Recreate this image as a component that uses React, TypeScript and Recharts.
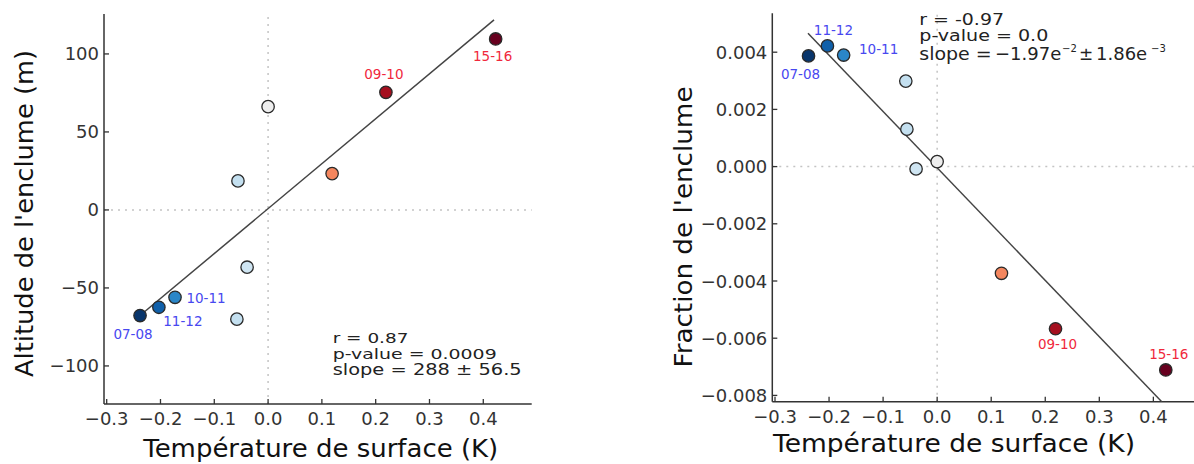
import React from 'react';
import { ScatterChart, Scatter, XAxis, YAxis, ReferenceLine } from 'recharts';

// ---- data ----
const seasons = ['07-08', '11-12', '10-11', '', '', '', '', '', '09-10', '15-16'];
const surfaceTemp = [-0.238, -0.203, -0.173, -0.058, -0.056, -0.039, 0.0, 0.119, 0.219, 0.423];
const anvilAltitude = [-67.7, -62.4, -56, -70, 18.6, -36.7, 66.2, 23.3, 75.4, 109.6];
const anvilFraction = [0.00387, 0.00422, 0.0039, 0.00299, 0.00131, -0.00008, 0.000175, -0.00373, -0.00567, -0.00711];
const xTicks = [-0.3, -0.2, -0.1, 0, 0.1, 0.2, 0.3, 0.4];
const altTicks = [-100, -50, 0, 50, 100];
const fracTicks = [-0.008, -0.006, -0.004, -0.002, 0, 0.002, 0.004];
const altFit = [{ x: -0.238, y: -67.7 }, { x: 0.42, y: 121.8 }];
const fracFit = [{ x: -0.239, y: 0.00466 }, { x: 0.4155, y: -0.00822 }];

// ---- styles ----
const pointColors = ['#08356b', '#1060aa', '#2a86c8', '#c4e0f0', '#c4e0f0', '#cfe5f2', '#eeeeee', '#f4865e', '#a50f1f', '#67001f'];
const blueLabel = '#4848f0';
const redLabel = '#f0283c';
const leftOffsets: Record<string, [number, number]> = {
  '07-08': [-7, 18], '11-12': [24, 14], '10-11': [31, 1], '09-10': [-2, -18], '15-16': [-3, 17],
};
const rightOffsets: Record<string, [number, number]> = {
  '07-08': [-8, 18], '11-12': [6, -16], '10-11': [35, -6], '09-10': [2, 15], '15-16': [3, -16],
};
const FONT = '"DejaVu Sans", sans-serif';
const AXIS = '#333';

const leftData = surfaceTemp.map((x, i) => ({ x, y: anvilAltitude[i], season: seasons[i], color: pointColors[i] }));
const rightData = surfaceTemp.map((x, i) => ({ x, y: anvilFraction[i], season: seasons[i], color: pointColors[i] }));

const minus = (s: string) => s.replace('-', '\u2212');
const fmtX = (v: number) => minus(v.toFixed(1));
const fmtAlt = (v: number) => minus(String(v));
const fmtFrac = (v: number) => minus(v.toFixed(3));

const makeXTick = (fmt: (v: number) => string) => (props: any) => {
  const { x, y, payload } = props;
  return (
    <g>
      <line x1={x} x2={x} y1={y} y2={y - 5} stroke={AXIS} strokeWidth={1.3} />
      <text x={x} y={y + 21} textAnchor="middle" fontSize={18} fontFamily={FONT} fill={AXIS}>
        {fmt(payload.value)}
      </text>
    </g>
  );
};
const makeYTick = (fmt: (v: number) => string) => (props: any) => {
  const { x, y, payload } = props;
  return (
    <g>
      <line x1={x} x2={x + 5} y1={y} y2={y} stroke={AXIS} strokeWidth={1.3} />
      <text x={x - 5} y={y + 6.5} textAnchor="end" fontSize={18} fontFamily={FONT} fill={AXIS}>
        {fmt(payload.value)}
      </text>
    </g>
  );
};

const makeDot = (offsets: Record<string, [number, number]>) => (props: any) => {
  const { cx, cy, payload } = props;
  const off = offsets[payload.season];
  const isRed = payload.season === '09-10' || payload.season === '15-16';
  return (
    <g>
      <circle cx={cx} cy={cy} r={6.2} fill={payload.color} stroke="#2a2a2a" strokeWidth={1.3} />
      {off && (
        <text x={cx + off[0]} y={cy + off[1] + 5} textAnchor="middle" fontSize={13.5} fontFamily={FONT}
          fill={isRed ? redLabel : blueLabel}>
          {payload.season}
        </text>
      )}
    </g>
  );
};

const noShape = () => <g />;

export default function App() {
  return (
    <div style={{ position: 'fixed', left: 0, top: 0, width: 1194, height: 464, overflow: 'hidden', background: '#fff' }}>
      <div style={{ position: 'absolute', left: 0, top: 0 }}>
        <ScatterChart width={560} height={464} margin={{ top: 14, right: 28.3, bottom: 0, left: 0 }}>
          <XAxis type="number" dataKey="x" domain={[-0.305, 0.49]} ticks={xTicks} allowDataOverflow
            height={60} tickSize={0} tickMargin={0} tickLine={false} tick={makeXTick(fmtX)}
            axisLine={{ stroke: AXIS, strokeWidth: 1.5 }} interval={0} />
          <YAxis type="number" dataKey="y" domain={[-124.4, 125.6]} ticks={altTicks} allowDataOverflow
            width={104} tickSize={0} tickMargin={0} tickLine={false} tick={makeYTick(fmtAlt)}
            axisLine={{ stroke: AXIS, strokeWidth: 1.5 }} interval={0} />
          <ReferenceLine x={0} stroke="#c4c4c4" strokeWidth={1.5} strokeDasharray="2 5" />
          <ReferenceLine y={0} stroke="#c4c4c4" strokeWidth={1.5} strokeDasharray="2 5" />
          <Scatter data={altFit} line={{ stroke: '#444', strokeWidth: 1.5 }} shape={noShape} isAnimationActive={false} />
          <Scatter data={leftData} shape={makeDot(leftOffsets)} isAnimationActive={false} />
        </ScatterChart>
      </div>
      <div style={{ position: 'absolute', left: 600, top: 0 }}>
        <ScatterChart width={620} height={464} margin={{ top: 13.3, right: 18, bottom: 0, left: 0 }}>
          <XAxis type="number" dataKey="x" domain={[-0.305, 0.49]} ticks={xTicks} allowDataOverflow
            height={62.3} tickSize={0} tickMargin={0} tickLine={false} tick={makeXTick(fmtX)}
            axisLine={{ stroke: AXIS, strokeWidth: 1.5 }} interval={0} />
          <YAxis type="number" dataKey="y" domain={[-0.00822, 0.00536]} ticks={fracTicks} allowDataOverflow
            width={172.3} tickSize={0} tickMargin={0} tickLine={false} tick={makeYTick(fmtFrac)}
            axisLine={{ stroke: AXIS, strokeWidth: 1.5 }} interval={0} />
          <ReferenceLine x={0} stroke="#c4c4c4" strokeWidth={1.5} strokeDasharray="2 5" />
          <ReferenceLine y={0} stroke="#c4c4c4" strokeWidth={1.5} strokeDasharray="2 5" />
          <Scatter data={fracFit} line={{ stroke: '#444', strokeWidth: 1.5 }} shape={noShape} isAnimationActive={false} />
          <Scatter data={rightData} shape={makeDot(rightOffsets)} isAnimationActive={false} />
        </ScatterChart>
      </div>
      <svg width={1194} height={464} style={{ position: 'absolute', left: 0, top: 0, pointerEvents: 'none' }}
        fontFamily={FONT}>
        <text x={320.7} y={457} textAnchor="middle" fontSize={25} fill="#111"
          textLength={355} lengthAdjust="spacingAndGlyphs">Température de surface (K)</text>
        <text x={954} y={452} textAnchor="middle" fontSize={25} fill="#111"
          textLength={362} lengthAdjust="spacingAndGlyphs">Température de surface (K)</text>
        <text x={33} y={213.5} textAnchor="middle" fontSize={25.5} fill="#111" transform="rotate(-90 33 213.5)"
          textLength={327} lengthAdjust="spacingAndGlyphs">
          Altitude de l'enclume (m)
        </text>
        <text x={692} y={227} textAnchor="middle" fontSize={25.5} fill="#111" transform="rotate(-90 692 227)"
          textLength={281} lengthAdjust="spacingAndGlyphs">
          Fraction de l'enclume
        </text>
        <g fill="#222">
          <text x={332.7} y={343.3} fontSize={14.5} textLength={75.7} lengthAdjust="spacingAndGlyphs">r = 0.87</text>
          <text x={332.7} y={358.8} fontSize={14.5} textLength={164} lengthAdjust="spacingAndGlyphs">p-value = 0.0009</text>
          <text x={332.7} y={375} fontSize={15.5} textLength={189} lengthAdjust="spacingAndGlyphs">slope = 288 ± 56.5</text>
          <text x={919.3} y={24.5} fontSize={15} textLength={84.7} lengthAdjust="spacingAndGlyphs">r = -0.97</text>
          <text x={919.3} y={40.5} fontSize={15} textLength={129} lengthAdjust="spacingAndGlyphs">p-value = 0.0</text>
          <text x={919.3} y={60} fontSize={17} textLength={72.4} lengthAdjust="spacingAndGlyphs">slope =</text>
          <text x={995} y={60} fontSize={18}>−1.97e</text>
          <text x={1062} y={52} fontSize={10}>−2</text>
          <text x={1079} y={60} fontSize={17}>±</text>
          <text x={1096} y={60} fontSize={18}>1.86e</text>
          <text x={1151} y={52} fontSize={10}>−3</text>
        </g>
      </svg>
    </div>
  );
}
